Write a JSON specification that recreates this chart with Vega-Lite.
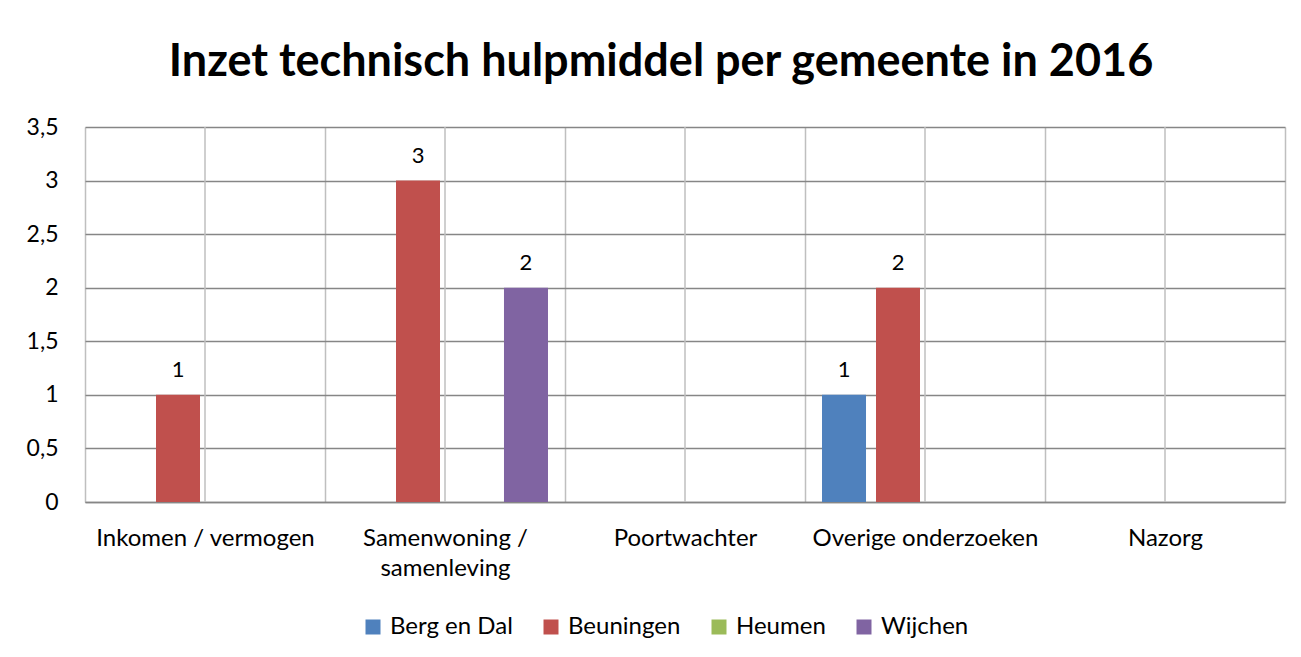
{
  "$schema": "https://vega.github.io/schema/vega-lite/v6.json",
  "width": 1200,
  "height": 375,
  "autosize": {"type": "none"},
  "padding": {"left": 85, "top": 127, "right": 16, "bottom": 155},
  "background": "white",
  "config": {"font": "Lato", "view": {"stroke": null}},
  "title": {
    "text": "Inzet technisch hulpmiddel per gemeente in 2016",
    "fontSize": 45,
    "fontWeight": "bold",
    "color": "black",
    "font": "Lato",
    "anchor": "middle",
    "dx": -24,
    "dy": 52,
    "baseline": "alphabetic",
    "offset": 47
  },
  "data": {
    "values": [
      {"categorie": "Inkomen / vermogen", "gemeente": "Berg en Dal", "waarde": 0},
      {"categorie": "Inkomen / vermogen", "gemeente": "Beuningen", "waarde": 1},
      {"categorie": "Inkomen / vermogen", "gemeente": "Heumen", "waarde": 0},
      {"categorie": "Inkomen / vermogen", "gemeente": "Wijchen", "waarde": 0},
      {"categorie": "Samenwoning / samenleving", "gemeente": "Berg en Dal", "waarde": 0},
      {"categorie": "Samenwoning / samenleving", "gemeente": "Beuningen", "waarde": 3},
      {"categorie": "Samenwoning / samenleving", "gemeente": "Heumen", "waarde": 0},
      {"categorie": "Samenwoning / samenleving", "gemeente": "Wijchen", "waarde": 2},
      {"categorie": "Poortwachter", "gemeente": "Berg en Dal", "waarde": 0},
      {"categorie": "Poortwachter", "gemeente": "Beuningen", "waarde": 0},
      {"categorie": "Poortwachter", "gemeente": "Heumen", "waarde": 0},
      {"categorie": "Poortwachter", "gemeente": "Wijchen", "waarde": 0},
      {"categorie": "Overige onderzoeken", "gemeente": "Berg en Dal", "waarde": 1},
      {"categorie": "Overige onderzoeken", "gemeente": "Beuningen", "waarde": 2},
      {"categorie": "Overige onderzoeken", "gemeente": "Heumen", "waarde": 0},
      {"categorie": "Overige onderzoeken", "gemeente": "Wijchen", "waarde": 0},
      {"categorie": "Nazorg", "gemeente": "Berg en Dal", "waarde": 0},
      {"categorie": "Nazorg", "gemeente": "Beuningen", "waarde": 0},
      {"categorie": "Nazorg", "gemeente": "Heumen", "waarde": 0},
      {"categorie": "Nazorg", "gemeente": "Wijchen", "waarde": 0}
    ]
  },
  "layer": [
    {
      "transform": [{"filter": "datum.gemeente == 'Berg en Dal'"}],
      "mark": {"type": "rule", "color": "#bfbfbf", "strokeWidth": 1.5},
      "encoding": {
        "x": {
          "field": "categorie",
          "type": "nominal",
          "bandPosition": 0.5,
          "sort": ["Inkomen / vermogen", "Samenwoning / samenleving", "Poortwachter", "Overige onderzoeken", "Nazorg"]
        }
      }
    },
    {
      "mark": {"type": "bar"},
      "encoding": {
        "x": {
          "field": "categorie",
          "type": "nominal",
          "sort": ["Inkomen / vermogen", "Samenwoning / samenleving", "Poortwachter", "Overige onderzoeken", "Nazorg"],
          "scale": {"paddingInner": 0, "paddingOuter": 0},
          "axis": {
            "title": null,
            "labelAngle": 0,
            "labelAlign": "center",
            "labelFontSize": 24,
            "labelColor": "black",
            "labelPadding": 36,
            "labelLineHeight": 30,
            "labelLimit": 0,
            "labelExpr": "datum.value == 'Samenwoning / samenleving' ? ['Samenwoning /', 'samenleving'] : datum.value",
            "ticks": false,
            "domainColor": "#868686",
            "domainWidth": 1.5,
            "grid": true,
            "tickBand": "extent",
            "gridColor": "#bfbfbf",
            "gridWidth": 1.5
          }
        },
        "xOffset": {
          "field": "gemeente",
          "type": "nominal",
          "sort": ["Berg en Dal", "Beuningen", "Heumen", "Wijchen"],
          "scale": {"paddingInner": 0.185, "paddingOuter": 0.315}
        },
        "y": {
          "field": "waarde",
          "type": "quantitative",
          "scale": {"domain": [0, 3.5], "nice": false},
          "axis": {
            "title": null,
            "values": [0, 0.5, 1, 1.5, 2, 2.5, 3, 3.5],
            "labelExpr": "replace(format(datum.value, '~g'), '.', ',')",
            "domain": false,
            "ticks": false,
            "grid": true,
            "gridColor": "#868686",
            "gridWidth": 1.5,
            "labelFontSize": 23,
            "labelColor": "black",
            "labelPadding": 27
          }
        },
        "color": {
          "field": "gemeente",
          "type": "nominal",
          "scale": {
            "domain": ["Berg en Dal", "Beuningen", "Heumen", "Wijchen"],
            "range": ["#4f81bd", "#c0504d", "#9bbb59", "#8064a2"]
          },
          "legend": {
            "title": null,
            "orient": "none",
            "legendX": 276,
            "legendY": 488,
            "direction": "horizontal",
            "symbolType": "square",
            "symbolSize": 225,
            "symbolStrokeWidth": 0,
            "labelFontSize": 24,
            "labelColor": "black",
            "labelOffset": 5,
            "columnPadding": 26,
            "padding": 0
          }
        }
      }
    },
    {
      "transform": [{"filter": "datum.waarde > 0"}],
      "mark": {"type": "text", "fontSize": 22, "color": "black", "baseline": "alphabetic", "dy": -18},
      "encoding": {
        "x": {
          "field": "categorie",
          "type": "nominal",
          "sort": ["Inkomen / vermogen", "Samenwoning / samenleving", "Poortwachter", "Overige onderzoeken", "Nazorg"]
        },
        "xOffset": {
          "field": "gemeente",
          "type": "nominal",
          "sort": ["Berg en Dal", "Beuningen", "Heumen", "Wijchen"]
        },
        "y": {"field": "waarde", "type": "quantitative"},
        "text": {"field": "waarde", "type": "quantitative"}
      }
    }
  ]
}
